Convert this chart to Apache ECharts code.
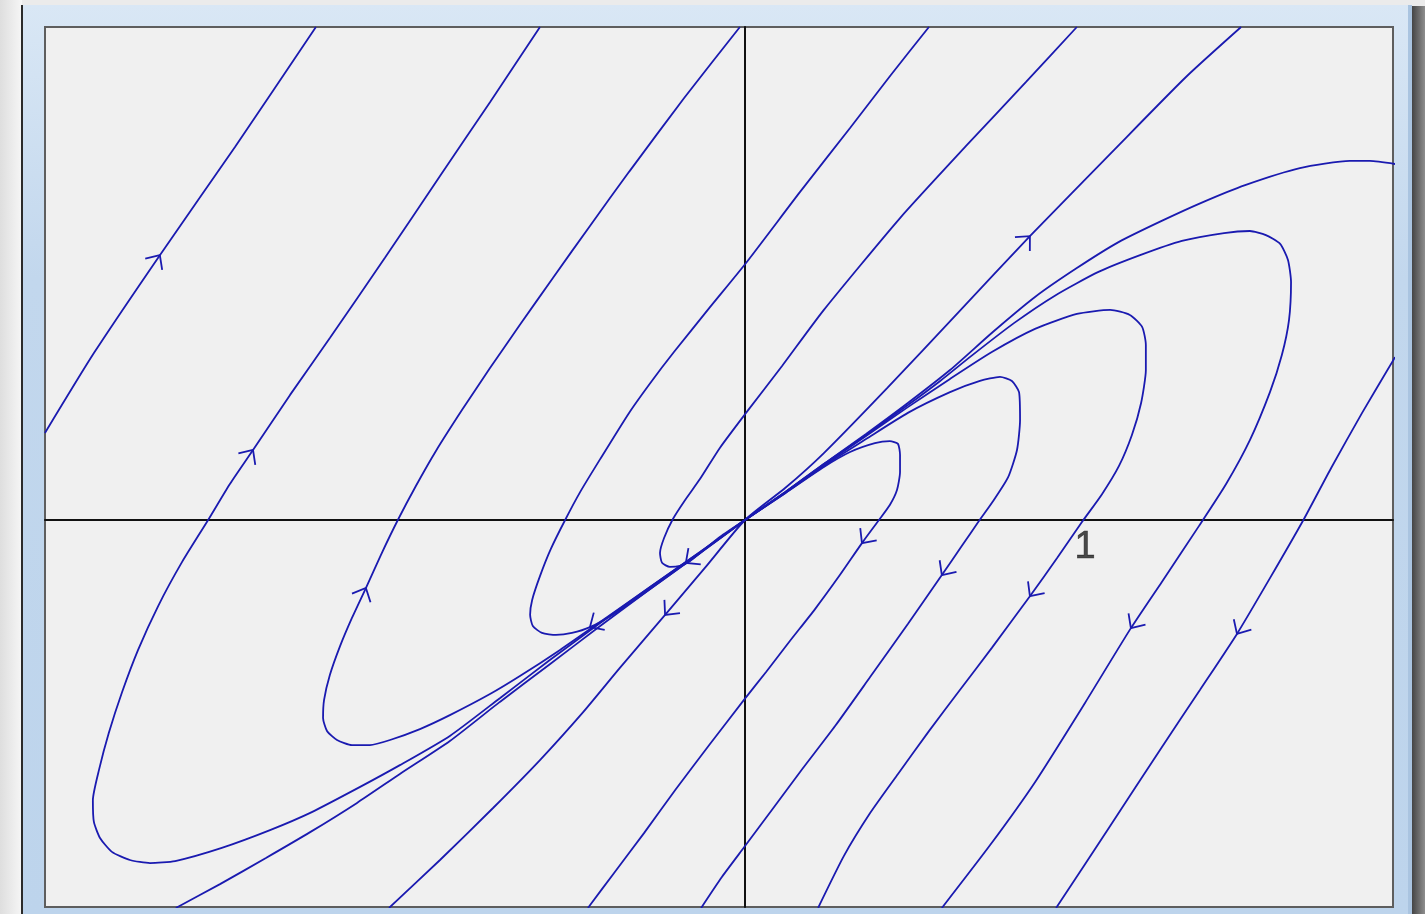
<!DOCTYPE html>
<html>
<head>
<meta charset="utf-8">
<style>
  html, body { margin: 0; padding: 0; background: #ebebeb; }
  #chart { width: 1425px; height: 914px; }
</style>
<script src="https://cdn.jsdelivr.net/npm/echarts@6/dist/echarts.min.js"></script>
</head>
<body>
<div id="chart"></div>
<script>
// ---- Data (phase-plane trajectories; x, y in plot units) ----
const tickLabels = [[1, 0, '1']];

const curveA = [[-1.262,1.45],[-1.5,1.097],[-1.721,0.779],[-1.915,0.491],[-2.059,0.256]];

const curveB = [[0,0],[-0.132,-0.094],[-0.279,-0.197],[-0.426,-0.303],[-0.574,-0.412],[-0.721,-0.524],
  [-0.868,-0.635],[-1.015,-0.721],[-1.132,-0.785],[-1.274,-0.859],[-1.397,-0.912],[-1.541,-0.965],
  [-1.676,-1.003],[-1.75,-1.009],[-1.809,-1.0],[-1.862,-0.976],[-1.897,-0.935],[-1.915,-0.888],
  [-1.918,-0.824],[-1.9,-0.735],[-1.871,-0.626],[-1.832,-0.506],[-1.785,-0.382],[-1.726,-0.253],
  [-1.656,-0.124],[-1.579,0],[-1.515,0.106],[-1.447,0.206],[-1.338,0.368],[-1.221,0.535],
  [-1.059,0.771],[-0.897,1.012],[-0.75,1.229],[-0.603,1.45]];

const curveH = [[0,0],[-0.132,-0.097],[-0.279,-0.203],[-0.426,-0.312],[-0.574,-0.424],[-0.721,-0.535],
  [-0.868,-0.65],[-1.015,-0.747],[-1.141,-0.832],[-1.279,-0.918],[-1.409,-0.994],[-1.544,-1.071],[-1.674,-1.141]];

const curveC = [[0,0],[-0.132,-0.094],[-0.279,-0.197],[-0.426,-0.3],[-0.544,-0.382],[-0.662,-0.459],
  [-0.75,-0.512],[-0.868,-0.574],[-0.956,-0.615],[-1.044,-0.647],[-1.103,-0.662],[-1.156,-0.662],
  [-1.2,-0.647],[-1.229,-0.621],[-1.241,-0.582],[-1.238,-0.529],[-1.221,-0.456],[-1.191,-0.371],
  [-1.156,-0.288],[-1.115,-0.2],[-1.071,-0.103],[-1.021,0],[-0.968,0.1],[-0.909,0.203],[-0.832,0.324],
  [-0.75,0.447],[-0.662,0.574],[-0.565,0.712],[-0.456,0.865],[-0.341,1.024],[-0.179,1.241],[-0.015,1.45]];

const curveD = [[0,0],[-0.132,-0.097],[-0.279,-0.203],[-0.382,-0.274],[-0.456,-0.315],[-0.509,-0.332],
  [-0.556,-0.338],[-0.597,-0.332],[-0.624,-0.312],[-0.632,-0.279],[-0.626,-0.235],[-0.603,-0.165],
  [-0.571,-0.085],[-0.529,0],[-0.485,0.082],[-0.426,0.179],[-0.341,0.315],[-0.274,0.409],[-0.209,0.494],
  [-0.103,0.626],[0.003,0.756],[0.162,0.965],[0.309,1.153],[0.429,1.309],[0.541,1.45]];

const curveE = [[0,0],[-0.074,-0.05],[-0.132,-0.097],[-0.162,-0.121],[-0.191,-0.135],[-0.221,-0.138],
  [-0.244,-0.126],[-0.25,-0.097],[-0.238,-0.053],[-0.212,0.003],[-0.176,0.059],[-0.132,0.121],
  [-0.074,0.212],[0.003,0.315],[0.109,0.453],[0.232,0.618],[0.456,0.888],[0.653,1.103],[0.826,1.288],[0.976,1.45]];

const curveF = [[1.459,1.45],[1.297,1.303],[1.088,1.091],[0.838,0.835],[0.629,0.612],[0.418,0.388],
  [0.232,0.197],[0.118,0.094],[0,0],[-0.118,-0.141],[-0.235,-0.279],[-0.368,-0.435],[-0.476,-0.565],
  [-0.603,-0.706],[-0.741,-0.847],[-0.897,-1.0],[-1.047,-1.141]];

const loop1 = [[0,0],[0.118,0.079],[0.232,0.156],[0.309,0.2],[0.382,0.226],[0.426,0.232],[0.45,0.224],
  [0.456,0.191],[0.456,0.141],[0.447,0.088],[0.426,0.044],[0.394,0],[0.344,-0.068],[0.279,-0.162],
  [0.206,-0.262],[0.132,-0.356],[0.062,-0.447],[-0.003,-0.529],[-0.103,-0.659],[-0.203,-0.791],
  [-0.297,-0.921],[-0.385,-1.038],[-0.462,-1.141]];

const loop2 = [[0,0],[0.118,0.079],[0.232,0.159],[0.356,0.238],[0.479,0.315],[0.603,0.376],[0.691,0.409],
  [0.75,0.421],[0.785,0.409],[0.806,0.376],[0.809,0.294],[0.8,0.206],[0.774,0.126],[0.732,0.059],
  [0.688,-0.003],[0.638,-0.076],[0.579,-0.162],[0.479,-0.306],[0.368,-0.462],[0.265,-0.606],
  [0.162,-0.741],[0.079,-0.853],[0,-0.959],[-0.068,-1.05],[-0.129,-1.141]];

const loop3 = [[0,0],[0.118,0.082],[0.232,0.162],[0.356,0.247],[0.479,0.332],[0.603,0.415],[0.726,0.494],
  [0.853,0.562],[0.976,0.606],[1.074,0.618],[1.132,0.603],[1.168,0.568],[1.179,0.515],[1.179,0.441],
  [1.165,0.344],[1.138,0.25],[1.1,0.159],[1.05,0.076],[0.991,-0.006],[0.918,-0.112],[0.838,-0.224],
  [0.726,-0.376],[0.632,-0.5],[0.541,-0.621],[0.45,-0.747],[0.368,-0.862],[0.291,-0.988],[0.215,-1.141]];

const loop4 = [[0,0],[0.118,0.082],[0.232,0.165],[0.356,0.25],[0.479,0.338],[0.574,0.409],[0.665,0.482],
  [0.791,0.579],[0.915,0.662],[1.038,0.729],[1.162,0.779],[1.285,0.821],[1.409,0.844],[1.485,0.85],
  [1.532,0.838],[1.574,0.812],[1.597,0.765],[1.606,0.7],[1.6,0.588],[1.579,0.485],[1.544,0.376],
  [1.485,0.235],[1.415,0.106],[1.335,-0.018],[1.226,-0.182],[1.135,-0.318],[1.0,-0.538],[0.853,-0.771],
  [0.721,-0.956],[0.579,-1.141]];

const loop5 = [[0,0],[0.118,0.082],[0.232,0.165],[0.356,0.253],[0.479,0.344],[0.603,0.441],[0.729,0.553],
  [0.853,0.656],[0.976,0.741],[1.1,0.818],[1.224,0.879],[1.347,0.935],[1.471,0.985],[1.632,1.035],
  [1.779,1.056],[1.838,1.056],[1.912,1.047]];

const curveG = [[1.912,0.479],[1.815,0.315],[1.724,0.153],[1.644,0.003],[1.544,-0.171],[1.447,-0.335],
  [1.338,-0.5],[1.224,-0.671],[1.074,-0.9],[0.915,-1.141]];

// arrows: [tipX, tipY, behindX, behindY] (a point on the same curve behind the tip)
const arrows = [
  [-1.721,0.779,-1.915,0.491],
  [-1.447,0.206,-1.515,0.106],
  [-1.115,-0.2,-1.156,-0.288],
  [-0.456,-0.315,-0.279,-0.203],
  [-0.174,-0.126,-0.074,-0.05],
  [0.838,0.835,0.629,0.612],
  [-0.235,-0.279,-0.118,-0.141],
  [0.344,-0.068,0.394,0],
  [0.579,-0.162,0.638,-0.076],
  [0.838,-0.224,0.918,-0.112],
  [1.135,-0.318,1.226,-0.182],
  [1.447,-0.335,1.544,-0.171]
];

const curves = [curveA, curveB, curveH, curveC, curveD, curveE, curveF, loop1, loop2, loop3, loop4, loop5, curveG];

const LINE_COLOR = '#1a1ab0';

const chart = echarts.init(document.getElementById('chart'), null, { renderer: 'canvas' });

const series = curves.map(function (c) {
  return {
    type: 'line', data: c, showSymbol: false, smooth: 0.2, clip: true, silent: true,
    lineStyle: { color: LINE_COLOR, width: 1.8 }, z: 3
  };
});

series.push({
  type: 'custom', data: arrows, clip: true, silent: true, z: 4,
  encode: { x: [0, 2], y: [1, 3] },
  renderItem: function (params, api) {
    const p = api.coord([api.value(0), api.value(1)]);
    const q = api.coord([api.value(2), api.value(3)]);
    let dx = q[0] - p[0], dy = q[1] - p[1];
    const L = Math.hypot(dx, dy) || 1; dx /= L; dy /= L;
    const len = 15, a = Math.PI / 4.2;
    const c = Math.cos(a), s = Math.sin(a);
    const r1 = [dx * c - dy * s, dx * s + dy * c];
    const r2 = [dx * c + dy * s, -dx * s + dy * c];
    return {
      type: 'polyline',
      shape: { points: [[p[0] + r1[0] * len, p[1] + r1[1] * len], p, [p[0] + r2[0] * len, p[1] + r2[1] * len]] },
      style: { stroke: LINE_COLOR, lineWidth: 1.8, fill: null }
    };
  }
});

series.push({
  type: 'scatter', data: tickLabels, symbolSize: 1, silent: true, z: 5,
  itemStyle: { color: 'rgba(0,0,0,0)' },
  label: {
    show: true, position: 'bottom', distance: 8,
    formatter: function (p) { return p.value[2]; },
    fontSize: 38, color: '#1e1e1e', fontFamily: 'Liberation Sans, Arial, sans-serif',
    textBorderColor: '#1e1e1e', textBorderWidth: 0.6
  }
});

chart.setOption({
  animation: false,
  backgroundColor: '#ebebeb',
  graphic: [
    { type: 'rect', z: -20, shape: { x: 0, y: 0, width: 22, height: 914 },
      style: { fill: new echarts.graphic.LinearGradient(0, 0, 1, 0, [{ offset: 0, color: '#dedede' }, { offset: 1, color: '#f6f6f6' }]) } },
    { type: 'rect', z: -20, shape: { x: 1411, y: 6, width: 14, height: 908 },
      style: { fill: new echarts.graphic.LinearGradient(0, 0, 1, 0, [{ offset: 0, color: '#3f3f3f' }, { offset: 1, color: '#8e8e8e' }]) } },
    { type: 'rect', z: -19, shape: { x: 21, y: 5, width: 2, height: 909 }, style: { fill: '#2b2b2b' } },
    { type: 'rect', z: -19, shape: { x: 23, y: 5, width: 1389, height: 909 },
      style: { fill: new echarts.graphic.LinearGradient(0, 0, 0, 1, [{ offset: 0, color: '#d9e7f5' }, { offset: 0.3, color: '#c2d7ed' }, { offset: 1, color: '#bdd4ec' }]) } },
    { type: 'rect', z: -18, shape: { x: 1408, y: 5, width: 4, height: 909 }, style: { fill: '#aac4e0' } }
  ],
  grid: {
    show: true, left: 45, right: 32, top: 27, bottom: 7,
    outerBoundsMode: 'none', containLabel: false,
    backgroundColor: '#f0f0f0', borderColor: '#5e5e5e', borderWidth: 2
  },
  xAxis: {
    type: 'value', min: -2.0588, max: 1.9059,
    axisLine: { onZero: true, lineStyle: { color: '#111', width: 2 } },
    axisTick: { show: false },
    splitLine: { show: false },
    axisLabel: { show: false }
  },
  yAxis: {
    type: 'value', min: -1.1382, max: 1.45,
    axisLine: { onZero: true, lineStyle: { color: '#111', width: 2 } },
    axisTick: { show: false },
    splitLine: { show: false },
    axisLabel: { show: false }
  },
  series: series
});
</script>
</body>
</html>
